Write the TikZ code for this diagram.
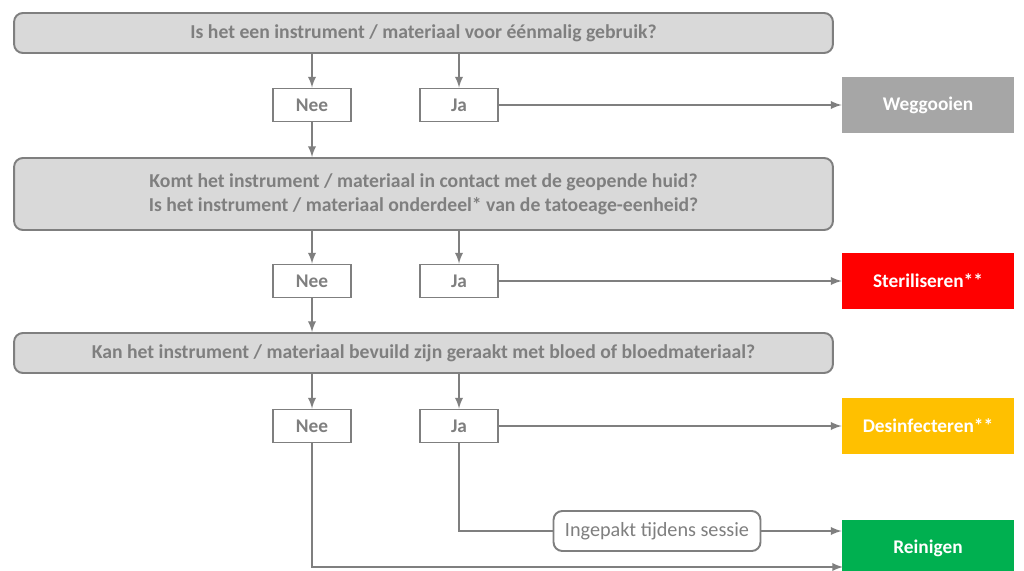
\documentclass[tikz,border=0pt]{standalone}
\usepackage{xcolor}
\usepackage{fontspec}
\setmainfont{Carlito}
\usepackage{tikz}
\usetikzlibrary{arrows,positioning}
\definecolor{lijn}{HTML}{7F7F7F}
\definecolor{vlak}{HTML}{D9D9D9}
\definecolor{grijs}{HTML}{A6A6A6}
\definecolor{rood}{HTML}{FF0000}
\definecolor{oranje}{HTML}{FFC000}
\definecolor{groen}{HTML}{00B050}
\tikzset{
	vraag/.style={draw=lijn, line width=1.1pt, fill=vlak, rounded corners=5pt, minimum width=16.38cm, minimum height=0.8cm, align=center, text=lijn, font=\fontsize{11.2}{13.5}\selectfont\bfseries},
	antw/.style={draw=lijn, line width=1.1pt, fill=white, minimum width=1.56cm, minimum height=0.66cm, text=lijn, font=\fontsize{11}{13}\selectfont\bfseries},
	uit/.style={minimum width=3.44cm, minimum height=1.12cm, text=white, font=\fontsize{11}{13}\selectfont\bfseries},
	pijl/.style={draw=lijn, line width=1.1pt, -latex}
}

\begin{document}
\begin{tikzpicture}[x=0.02cm, y=-0.02cm]
				\clip (0,0) rectangle (1024,571);
				\fill[white] (0,0) rectangle (1024,571);

				\node[vraag] (v1) at (423.5,33) {Is het een instrument / materiaal voor éénmalig gebruik?};
				\node[antw] (n1) at (312,105) {Nee};
				\node[antw] (j1) at (459,105) {Ja};
				\node[uit, fill=grijs] (weg) at (928,105) {Weggooien};

				\node[vraag, minimum height=1.44cm] (v2) at (423.5,194) {Komt het instrument / materiaal in contact met de geopende huid?\\Is het instrument / materiaal onderdeel* van de tatoeage-eenheid?};
				\node[antw] (n2) at (312,281) {Nee};
				\node[antw] (j2) at (459,281) {Ja};
				\node[uit, fill=rood] (ster) at (928,281) {Steriliseren**};

				\node[vraag] (v3) at (423.5,353) {Kan het instrument / materiaal bevuild zijn geraakt met bloed of bloedmateriaal?};
				\node[antw] (n3) at (312,426) {Nee};
				\node[antw] (j3) at (459,426) {Ja};
				\node[uit, fill=oranje] (des) at (928,426) {Desinfecteren**};

				\node[antw, rounded corners=5pt, minimum width=4.14cm, minimum height=0.8cm, font=\fontsize{11.5}{13}\selectfont] (ing) at (657,531) {Ingepakt tijdens sessie};
				\node[uit, fill=groen] (rein) at (928,548) {Reinigen};
				\coordinate (onder) at (843,567);

				\draw[pijl] (v1.south -| n1) -- (n1);
				\draw[pijl] (v1.south -| j1) -- (j1);
				\draw[pijl] (j1) -- (weg);
				\draw[pijl] (n1) -- (v2.north -| n1);

				\draw[pijl] (v2.south -| n2) -- (n2);
				\draw[pijl] (v2.south -| j2) -- (j2);
				\draw[pijl] (j2) -- (ster);
				\draw[pijl] (n2) -- (v3.north -| n2);

				\draw[pijl] (v3.south -| n3) -- (n3);
				\draw[pijl] (v3.south -| j3) -- (j3);
				\draw[pijl] (j3) -- (des);
				\draw[draw=lijn, line width=1.1pt] (j3) |- (ing);
				\draw[pijl] (ing) -- (ing -| rein.west);
				\draw[pijl] (n3) |- (onder);
			\end{tikzpicture}
\end{document}
